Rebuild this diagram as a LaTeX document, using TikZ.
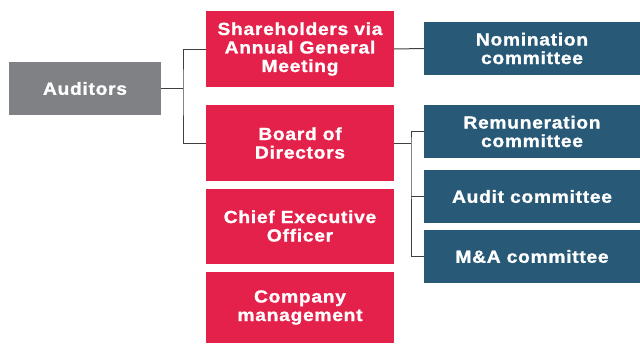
\documentclass[tikz,border=0pt]{standalone}
\usepackage{fontspec}
\setmainfont{Liberation Sans}[FakeStretch=1.1,LetterSpace=4,FakeBold=1.2]
\definecolor{audgray}{HTML}{808184}
\definecolor{govred}{HTML}{E4214A}
\definecolor{comblue}{HTML}{285A78}
\definecolor{linegray}{HTML}{404040}
\tikzset{
  box/.style={rectangle, inner sep=0pt, align=center, text=white,
    font=\fontsize{17.5}{18.5}\selectfont\bfseries},
  audbox/.style={box, fill=audgray, minimum width=152pt, minimum height=53pt},
  redbox/.style={box, fill=govred, minimum width=188pt},
  bluebox/.style={box, fill=comblue, minimum width=216pt, minimum height=53pt},
  conn/.style={draw=linegray, line width=1pt}
}
\begin{document}
\begin{tikzpicture}[x=1pt,y=-1pt]
\useasboundingbox (0,0) rectangle (640,343);
\node[audbox] (aud) at (85,88.5) {Auditors};
\node[redbox, minimum height=76pt] (sh) at (300,49) {Shareholders via\\Annual General\\Meeting};
\node[redbox, minimum height=76pt] (bod) at (300,143) {Board of\\Directors};
\node[redbox, minimum height=75pt] (ceo) at (300,226) {Chief Executive\\Officer};
\node[redbox, minimum height=71pt] (cm) at (300,307.5) {Company\\management};
\node[bluebox] (nom) at (532,48.5) {Nomination\\committee};
\node[bluebox] (rem) at (532,131.5) {Remuneration\\committee};
\node[bluebox] (audc) at (532,196.5) {Audit committee};
\node[bluebox] (ma) at (532,256.5) {M\&A committee};
\coordinate (j1) at (183,88.5);
\coordinate (j2) at (411,143);
\draw[conn] (aud.east) -- (j1);
\draw[conn] (sh.west) -| (j1) |- (bod.west);
\draw[conn] (sh.east) -- (nom.west);
\draw[conn] (bod.east) -- (j2);
\draw[conn] (rem.west) -| (j2) |- (ma.west);
\draw[conn] (audc.west) -- (audc.west -| j2);
\end{tikzpicture}
\end{document}
